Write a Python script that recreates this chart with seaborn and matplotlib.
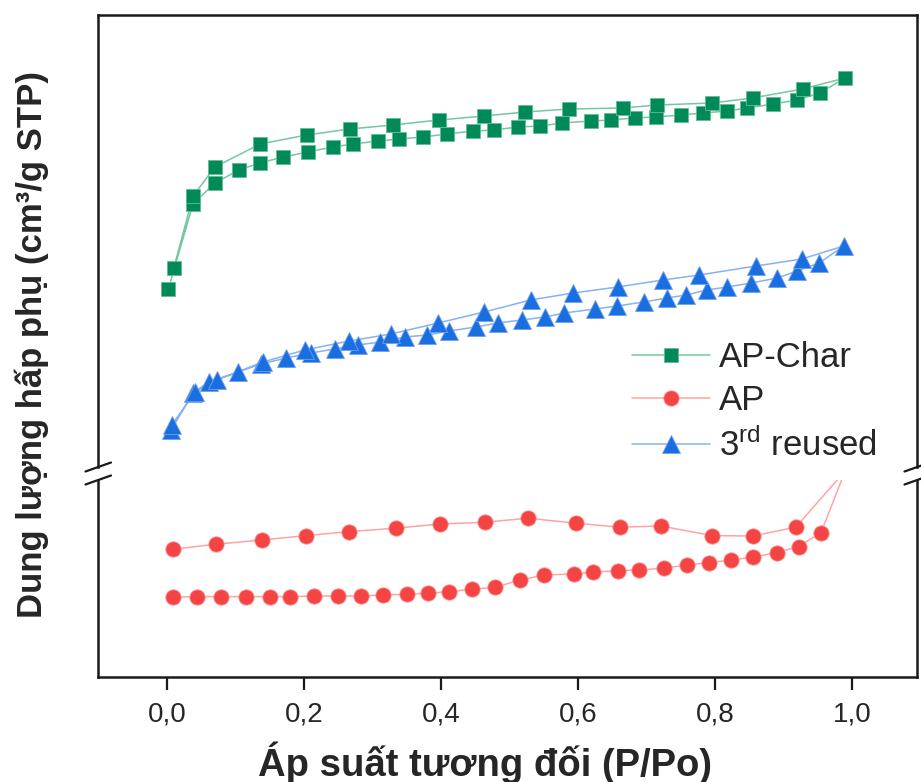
import numpy as np
import pandas as pd
import matplotlib
matplotlib.use('Agg')
import matplotlib.pyplot as plt
import seaborn as sns
from matplotlib.lines import Line2D

# ---------------- data (P/Po, adsorbed volume; arbitrary units per panel) ----------------
char_ads_x = [0.002, 0.038, 0.070, 0.105, 0.136, 0.169, 0.206, 0.242, 0.272, 0.308, 0.339, 0.374,
              0.409, 0.447, 0.477, 0.512, 0.545, 0.577, 0.619, 0.648, 0.683, 0.714, 0.750, 0.782,
              0.818, 0.847, 0.885, 0.920, 0.953, 0.990]
char_ads_y = [150.0, 192.5, 203.0, 209.5, 213.0, 216.0, 218.5, 221.0, 222.5, 224.0, 225.0, 226.0,
              227.5, 229.0, 229.5, 231.0, 231.5, 233.0, 234.0, 234.5, 235.5, 236.0, 237.0, 238.0,
              239.0, 240.5, 242.5, 244.5, 248.0, 255.5]
char_des_x = [0.928, 0.855, 0.796, 0.715, 0.666, 0.587, 0.523, 0.463, 0.397, 0.330, 0.267, 0.204,
              0.136, 0.070, 0.038, 0.010]
char_des_y = [250.0, 245.5, 243.0, 242.0, 240.5, 240.0, 238.5, 236.5, 234.5, 232.0, 230.0, 227.0,
              222.5, 211.0, 196.5, 160.5]

reuse_ads_x = [0.006, 0.038, 0.061, 0.104, 0.137, 0.174, 0.210, 0.245, 0.279, 0.311, 0.347, 0.380,
               0.412, 0.451, 0.483, 0.518, 0.552, 0.580, 0.625, 0.657, 0.696, 0.730, 0.758, 0.788,
               0.818, 0.853, 0.891, 0.920, 0.952, 0.988]
reuse_ads_y = [79.5, 98.0, 103.5, 108.5, 112.5, 115.5, 118.0, 120.0, 122.0, 123.5, 126.0, 127.0,
               129.0, 131.0, 133.0, 134.5, 136.0, 138.0, 140.0, 141.5, 143.5, 145.5, 147.0, 149.5,
               151.0, 153.0, 155.5, 159.0, 163.0, 171.5]
reuse_des_x = [0.927, 0.860, 0.777, 0.724, 0.658, 0.593, 0.531, 0.463, 0.396, 0.327, 0.266, 0.201,
               0.140, 0.073, 0.041, 0.007]
reuse_des_y = [165.0, 161.5, 157.0, 154.5, 151.0, 148.0, 144.5, 138.5, 133.0, 127.5, 124.0, 119.5,
               113.5, 104.5, 98.5, 82.0]

ap_ads_x = [0.009, 0.044, 0.079, 0.115, 0.150, 0.180, 0.214, 0.249, 0.283, 0.315, 0.350, 0.381,
            0.412, 0.446, 0.479, 0.516, 0.550, 0.594, 0.622, 0.658, 0.689, 0.725, 0.759, 0.792,
            0.824, 0.855, 0.890, 0.922, 0.955, 0.990]
ap_ads_y = [3.99, 4.02, 4.02, 4.02, 4.02, 4.02, 4.05, 4.05, 4.05, 4.10, 4.14, 4.19,
            4.27, 4.39, 4.49, 4.85, 5.10, 5.15, 5.24, 5.32, 5.35, 5.44, 5.60, 5.72,
            5.85, 5.99, 6.22, 6.52, 7.22, 10.3]
ap_des_x = [0.918, 0.855, 0.796, 0.721, 0.661, 0.597, 0.527, 0.464, 0.399, 0.334, 0.266, 0.203,
            0.139, 0.072, 0.009]
ap_des_y = [7.49, 7.05, 7.07, 7.55, 7.49, 7.69, 7.94, 7.74, 7.65, 7.44, 7.27, 7.07,
            6.85, 6.64, 6.39]

x_ticks = [0.0, 0.2, 0.4, 0.6, 0.8, 1.0]
x_tick_labels = ['0,0', '0,2', '0,4', '0,6', '0,8', '1,0']
series_labels = ['AP-Char', 'AP', r'3$^{\mathrm{rd}}$ reused']

# ---------------- style ----------------
sns.set_style('white')
plt.rcParams['font.family'] = ['Liberation Sans', 'DejaVu Sans']
plt.rcParams['mathtext.fontset'] = 'custom'
plt.rcParams['mathtext.rm'] = 'Liberation Sans'
plt.rcParams['mathtext.it'] = 'Liberation Sans:italic'
plt.rcParams['mathtext.bf'] = 'Liberation Sans:bold'

W, H = 921, 782
fig = plt.figure(figsize=(W / 100, H / 100), dpi=100)


def fx(px):
    return px / W


def fy(py):
    return 1 - py / H


L, R = 98, 917
ax_top = fig.add_axes([fx(L), fy(467), fx(R) - fx(L), fy(15) - fy(467)])
ax_bot = fig.add_axes([fx(L), fy(677), fx(R) - fx(L), fy(480) - fy(677)])

green_m, green_l = '#008a58', '#74c7a2'
red_m, red_l = '#f44444', '#ffa3a3'
blue_m, blue_l = '#1a6fe0', '#86b1f2'


def make_df(ax_x, ax_y, de_x, de_y):
    return pd.DataFrame({'P': list(ax_x) + list(de_x), 'V': list(ax_y) + list(de_y)})


df_char = make_df(char_ads_x, char_ads_y, char_des_x, char_des_y)
df_reuse = make_df(reuse_ads_x, reuse_ads_y, reuse_des_x, reuse_des_y)
df_ap = make_df(ap_ads_x, ap_ads_y, ap_des_x, ap_des_y)

styles = {
    'char': dict(color=green_l, marker='s', markersize=10.5, markerfacecolor=green_m,
                 markeredgecolor='#5fbf95', markeredgewidth=0.6),
    'ap': dict(color=red_l, marker='o', markersize=11, markerfacecolor=red_m,
               markeredgecolor='#ff8a8a', markeredgewidth=0.6),
    'reuse': dict(color=blue_l, marker='^', markersize=12.5, markerfacecolor=blue_m,
                  markeredgecolor='#6f9fee', markeredgewidth=0.6),
}

sns.lineplot(data=df_char, x='P', y='V', ax=ax_top, sort=False, estimator=None,
             linewidth=1.1, legend=False, **styles['char'])
sns.lineplot(data=df_reuse, x='P', y='V', ax=ax_top, sort=False, estimator=None,
             linewidth=1.1, legend=False, **styles['reuse'])
sns.lineplot(data=df_ap, x='P', y='V', ax=ax_bot, sort=False, estimator=None,
             linewidth=1.1, legend=False, **styles['ap'])

xlim = (-0.1007, 1.095)
for ax in (ax_top, ax_bot):
    ax.set_xlim(*xlim)
    ax.set_yticks([])
    ax.set_ylabel('')
    ax.set_xlabel('')
    for s in ax.spines.values():
        s.set_linewidth(1.8)
        s.set_color('#1a1a1a')

ax_top.set_ylim(61, 287)
ax_bot.set_ylim(0, 9.85)
ax_top.spines['bottom'].set_visible(False)
ax_bot.spines['top'].set_visible(False)
ax_top.set_xticks([])

ax_bot.set_xticks(x_ticks)
ax_bot.set_xticklabels(x_tick_labels)
ax_bot.tick_params(axis='x', direction='out', length=9.5, width=1.6, color='#1a1a1a',
                   labelsize=20, pad=8, bottom=True)

ax_bot.set_xlabel('Áp suất tương đối (P/Po)', fontsize=27.5, fontweight='bold')
ax_bot.xaxis.set_label_coords((485 - L) / (R - L), (677 - 741) / (677 - 480))

ax_top.set_ylabel('Dung lượng hấp phụ (cm³/g STP)', fontsize=25, fontweight='bold')
ax_top.yaxis.set_label_coords(fx(32), fy(345), transform=fig.transFigure)
ax_top.yaxis.label.set_va('center')

# legend
handles = [Line2D([], [], linewidth=1.1, **styles['char']),
           Line2D([], [], linewidth=1.1, **styles['ap']),
           Line2D([], [], linewidth=1.1, **styles['reuse'])]
ax_top.legend(handles, series_labels, loc='center left',
              bbox_to_anchor=(fx(632), fy(402)), bbox_transform=fig.transFigure,
              frameon=False, fontsize=25, handlelength=2.25, handletextpad=0.25,
              labelspacing=0.3, borderpad=0, borderaxespad=0)

# axis break marks
inv = fig.transFigure.inverted()
for ax, pts in ((ax_top, [(0, 0), (1, 0)]), (ax_bot, [(0, 1), (1, 1)])):
    for p in pts:
        d = ax.transAxes.transform(p)
        a = inv.transform(d + np.array([-12.5, -4.5]))
        b = inv.transform(d + np.array([13.0, 4.5]))
        fig.add_artist(Line2D([a[0], b[0]], [a[1], b[1]], transform=fig.transFigure,
                              color='#1a1a1a', linewidth=1.6))

fig.savefig('out.png', dpi=100)
